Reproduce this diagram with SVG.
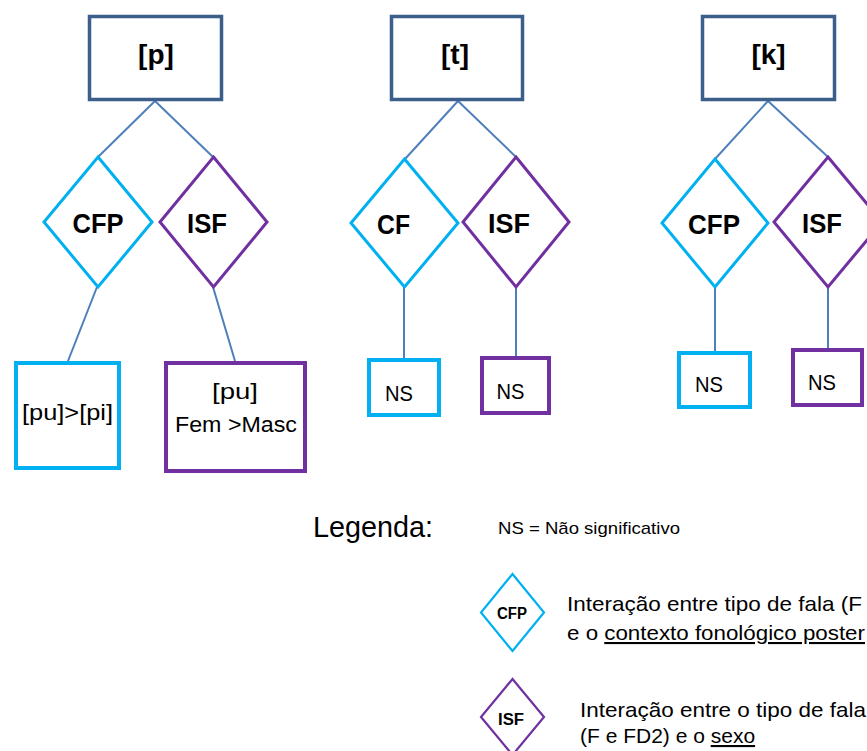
<svg xmlns="http://www.w3.org/2000/svg" width="867" height="751" viewBox="0 0 867 751">
<style>
  .top { fill: #fff; stroke: #3B5E8B; stroke-width: 3.5; }
  .cy { fill: #fff; stroke: #00B0F0; stroke-width: 3; }
  .pu { fill: #fff; stroke: #7030A0; stroke-width: 3; }
  .cyb { fill: #fff; stroke: #00B0F0; stroke-width: 4; }
  .pub { fill: #fff; stroke: #7030A0; stroke-width: 4; }
  .conn line { stroke: #4F7FBB; stroke-width: 2; }
  text { font-family: "Liberation Sans", Arial, sans-serif; fill: #000; }
  .tl { font-size: 28px; font-weight: bold; text-anchor: middle; }
  .dl { font-size: 28px; font-weight: bold; text-anchor: middle; }
  .bl { font-size: 22px; text-anchor: middle; }
  .ns { font-size: 22px; text-anchor: middle; }
  .lg { font-size: 21px; }
</style>

<g id="connectors" class="conn">
  <line x1="155" y1="101" x2="98" y2="157"/>
  <line x1="155" y1="101" x2="213" y2="157"/>
  <line x1="97" y1="287" x2="68" y2="361"/>
  <line x1="213" y1="287" x2="235" y2="361"/>
  <line x1="458" y1="101" x2="405" y2="159"/>
  <line x1="458" y1="101" x2="516" y2="157"/>
  <line x1="404" y1="287" x2="404" y2="358"/>
  <line x1="516" y1="287" x2="516" y2="356"/>
  <line x1="768" y1="101" x2="715" y2="159"/>
  <line x1="768" y1="101" x2="828" y2="157"/>
  <line x1="715" y1="287" x2="715" y2="351"/>
  <line x1="828" y1="287" x2="828" y2="348"/>
</g>

<!-- [p] column -->
<g id="node-p">
  <rect class="top" x="89.5" y="16.5" width="132" height="83"/>
  <text class="tl" x="156" y="64">[p]</text>
</g>
<g id="node-p-cfp">
  <polygon class="cy" points="98,157 152,222 98,287 44,222"/>
  <text class="dl" x="98" y="233" textLength="51" lengthAdjust="spacingAndGlyphs">CFP</text>
</g>
<g id="node-p-isf">
  <polygon class="pu" points="213.5,157 267,222 213.5,287 160,222"/>
  <text class="dl" x="207" y="233" textLength="40" lengthAdjust="spacingAndGlyphs">ISF</text>
</g>
<g id="node-p-cfp-res">
  <rect class="cyb" x="16" y="363" width="103" height="105"/>
  <text class="bl" x="67.5" y="420" textLength="91" lengthAdjust="spacingAndGlyphs">[pu]&gt;[pi]</text>
</g>
<g id="node-p-isf-res">
  <rect class="pub" x="166" y="363" width="139" height="108"/>
  <text class="bl" x="235" y="399" textLength="46" lengthAdjust="spacingAndGlyphs">[pu]</text>
  <text class="bl" x="236" y="432" textLength="122" lengthAdjust="spacingAndGlyphs">Fem &gt;Masc</text>
</g>

<!-- [t] column -->
<g id="node-t">
  <rect class="top" x="391.5" y="16.5" width="131" height="83"/>
  <text class="tl" x="455" y="64">[t]</text>
</g>
<g id="node-t-cf">
  <polygon class="cy" points="404.5,159 458,223 404.5,287 351,223"/>
  <text class="dl" x="393.5" y="234" textLength="33" lengthAdjust="spacingAndGlyphs">CF</text>
</g>
<g id="node-t-isf">
  <polygon class="pu" points="516,157 569,222 516,287 463,222"/>
  <text class="dl" x="509" y="233" textLength="42" lengthAdjust="spacingAndGlyphs">ISF</text>
</g>
<g id="node-t-cf-res">
  <rect class="cyb" x="369" y="360" width="70" height="55"/>
  <text class="ns" x="399" y="401" textLength="28" lengthAdjust="spacingAndGlyphs">NS</text>
</g>
<g id="node-t-isf-res">
  <rect class="pub" x="482" y="358" width="67" height="55"/>
  <text class="ns" x="510.5" y="399" textLength="28" lengthAdjust="spacingAndGlyphs">NS</text>
</g>

<!-- [k] column -->
<g id="node-k">
  <rect class="top" x="702.5" y="16.5" width="132" height="83"/>
  <text class="tl" x="768.5" y="64">[k]</text>
</g>
<g id="node-k-cfp">
  <polygon class="cy" points="715,159 768,223 715,287 662,223"/>
  <text class="dl" x="714" y="234" textLength="52" lengthAdjust="spacingAndGlyphs">CFP</text>
</g>
<g id="node-k-isf">
  <polygon class="pu" points="828,157 882,222 828,287 774,222"/>
  <text class="dl" x="822" y="233" textLength="40" lengthAdjust="spacingAndGlyphs">ISF</text>
</g>
<g id="node-k-cfp-res">
  <rect class="cyb" x="679" y="353" width="71" height="54"/>
  <text class="ns" x="709" y="392" textLength="28" lengthAdjust="spacingAndGlyphs">NS</text>
</g>
<g id="node-k-isf-res">
  <rect class="pub" x="793" y="350" width="69" height="55"/>
  <text class="ns" x="822" y="390" textLength="28" lengthAdjust="spacingAndGlyphs">NS</text>
</g>

<!-- Legend -->
<g id="legend">
  <text x="313" y="537" style="font-size:29px" textLength="120" lengthAdjust="spacingAndGlyphs">Legenda:</text>
  <text x="498" y="534" style="font-size:17px" textLength="182" lengthAdjust="spacingAndGlyphs">NS = Não significativo</text>
</g>
<g id="legend-cfp">
  <polygon class="cy" points="512.5,574 544,612.5 512.5,651 481,612.5" style="stroke-width:2.2"/>
  <text x="497" y="619" style="font-size:16px;font-weight:bold" textLength="30" lengthAdjust="spacingAndGlyphs">CFP</text>
  <text class="lg" x="567" y="611" textLength="295" lengthAdjust="spacingAndGlyphs">Interação entre tipo de fala (F</text>
  <text class="lg" x="567" y="640" textLength="298" lengthAdjust="spacingAndGlyphs">e o <tspan text-decoration="underline">contexto fonológico poster</tspan></text>
</g>
<g id="legend-isf">
  <polygon class="pu" points="512.5,679 544,717 512.5,755 481,717" style="stroke-width:2.2"/>
  <text x="498" y="725" style="font-size:16px;font-weight:bold" textLength="26" lengthAdjust="spacingAndGlyphs">ISF</text>
  <text class="lg" x="580" y="717" textLength="286" lengthAdjust="spacingAndGlyphs">Interação entre o tipo de fala</text>
  <text class="lg" x="580" y="743">(F e FD2) e o <tspan text-decoration="underline">sexo</tspan></text>
</g>
</svg>
